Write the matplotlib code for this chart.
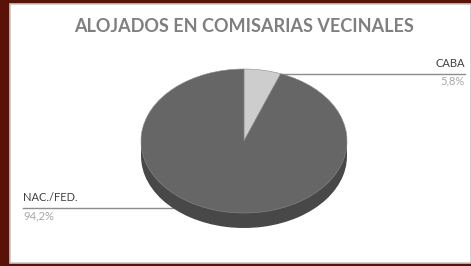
import matplotlib
matplotlib.use("Agg")
import matplotlib.pyplot as plt
from matplotlib.patches import Rectangle
import numpy as np

title = "ALOJADOS EN COMISARIAS VECINALES"
categories = ["CABA", "NAC./FED."]
values = [5.8, 94.2]
value_labels = ["5,8%", "94,2%"]

top_colors = ["#cdcdcd", "#666666"]
side_color = "#484848"

W, H = 471, 266
fig = plt.figure(figsize=(W / 100, H / 100), dpi=100)
fig.patch.set_facecolor("#5a1208")

# white panel with thin grey frame
bg = fig.add_axes([0, 0, 1, 1])
bg.set_xlim(0, W)
bg.set_ylim(H, 0)
bg.axis("off")
bg.add_patch(Rectangle((10, 3.5), W - 10, 259, facecolor="white",
                       edgecolor="#c8c8c8", linewidth=1.2))
bg.text(244, 27, title, ha="center", va="center", fontsize=13,
        fontweight="bold", color="#7f7f7f", family="Lato")

# pie geometry (pixels)
cx, cy, rx, ry, depth = 244, 141, 103, 72, 15
d = depth / ry
ax = fig.add_axes([(cx - rx) / W, (H - cy - ry - depth) / H,
                   2 * rx / W, (2 * ry + depth) / H])

# side of the cylinder
ax.pie(values, colors=[side_color] * 2, startangle=90, counterclock=False,
       center=(0, -d), frame=True, wedgeprops=dict(linewidth=0))
ax.add_patch(Rectangle((-1, -d), 2, d, facecolor=side_color, linewidth=0))
# top face
wedges, _ = ax.pie(values, colors=top_colors, startangle=90, counterclock=False,
                   frame=True, wedgeprops=dict(edgecolor="#8c8c8c", linewidth=0.4))
ax.set_aspect("auto")
ax.set_xlim(-1, 1)
ax.set_ylim(-1 - d, 1)
ax.axis("off")

# leader lines and labels
cum = np.cumsum([0] + values)
for i, (cat, lab) in enumerate(zip(categories, value_labels)):
    mid = np.deg2rad((cum[i] + cum[i + 1]) / 2 / 100 * 360)
    px = cx + 0.95 * rx * np.sin(mid)
    py = cy - 0.95 * ry * np.cos(mid)
    if np.sin(mid) >= 0:
        x_end, ha = 465, "right"
    else:
        x_end, ha = 23, "left"
    bg.plot([px, x_end], [py, py], color="#8c8c8c", linewidth=1.0)
    bg.plot(px, py, "o", color="#a6a6a6", markersize=3.5)
    bg.text(x_end, py - 5, cat, ha=ha, va="bottom", fontsize=8,
            color="#404040", family="Lato")
    bg.text(x_end, py + 2, lab, ha=ha, va="top", fontsize=8,
            color="#a6a6a6", family="Lato")

fig.savefig("out.png", dpi=100, facecolor=fig.get_facecolor())
